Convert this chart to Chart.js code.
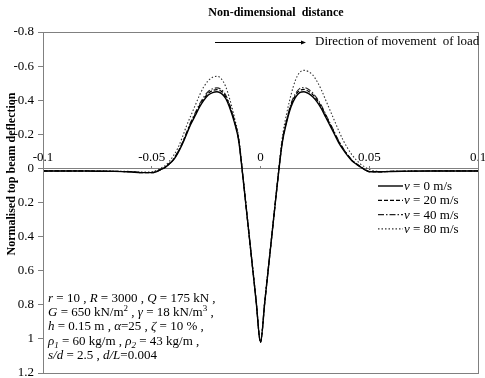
<!DOCTYPE html>
<html>
<head>
<meta charset="utf-8">
<script src="https://cdn.jsdelivr.net/npm/chart.js@4"></script>
<style>
  html, body { margin: 0; padding: 0; background: #fff; }
  #wrap { width: 485px; height: 378px; }
</style>
</head>
<body>
<div id="wrap"><canvas id="chartDeflection"></canvas></div>
<script>
// posicoes x (distancia adimensional) onde a deflexao foi lida
const distX = [
  -0.1, -0.09, -0.08, -0.07, -0.06, -0.055,
  -0.05, -0.048, -0.046, -0.044, -0.042, -0.04, -0.038, -0.036, -0.034, -0.032,
  -0.03, -0.028, -0.026, -0.024, -0.022, -0.02, -0.018, -0.016, -0.014, -0.012,
  -0.01, -0.008, -0.006, -0.004, -0.002, 0, 0.002, 0.004, 0.006, 0.008,
  0.01, 0.012, 0.014, 0.016, 0.018, 0.02, 0.022, 0.024, 0.026, 0.028,
  0.03, 0.032, 0.034, 0.036, 0.038, 0.04, 0.042, 0.044, 0.046, 0.048, 0.05,
  0.055, 0.06, 0.07, 0.08, 0.09, 0.1,
];

const defl0 = [
  0.015, 0.015, 0.015, 0.017, 0.02, 0.025,
  0.025, 0.02, 0.008, -0.005, -0.025, -0.05, -0.09, -0.14, -0.2, -0.26,
  -0.31, -0.36, -0.4, -0.43, -0.445, -0.45, -0.44, -0.41, -0.35, -0.27,
  -0.16, 0.06, 0.3, 0.54, 0.78, 1.02, 0.78, 0.54, 0.3, 0.06,
  -0.15, -0.27, -0.36, -0.415, -0.445, -0.45, -0.44, -0.42, -0.39, -0.35,
  -0.3, -0.25, -0.2, -0.15, -0.11, -0.075, -0.045, -0.025, -0.008, 0.008, 0.02,
  0.02, 0.018, 0.016, 0.015, 0.015, 0.015,
];

const defl20 = [
  0.015, 0.015, 0.015, 0.017, 0.02, 0.025,
  0.025, 0.019, 0.007, -0.006, -0.027, -0.053, -0.094, -0.145, -0.206, -0.267,
  -0.318, -0.369, -0.41, -0.441, -0.457, -0.462, -0.452, -0.421, -0.36, -0.278,
  -0.165, 0.06, 0.3, 0.54, 0.78, 1.02, 0.78, 0.54, 0.3, 0.06,
  -0.155, -0.278, -0.37, -0.427, -0.457, -0.463, -0.453, -0.433, -0.402, -0.361,
  -0.31, -0.259, -0.208, -0.157, -0.115, -0.079, -0.048, -0.027, -0.009, 0.007, 0.019,
  0.02, 0.018, 0.016, 0.015, 0.015, 0.015,
];

const defl40 = [
  0.015, 0.015, 0.015, 0.017, 0.02, 0.024,
  0.024, 0.018, 0.006, -0.007, -0.028, -0.055, -0.097, -0.149, -0.211, -0.274,
  -0.326, -0.378, -0.42, -0.451, -0.467, -0.472, -0.462, -0.43, -0.368, -0.284,
  -0.168, 0.06, 0.3, 0.54, 0.78, 1.02, 0.78, 0.54, 0.3, 0.06,
  -0.158, -0.284, -0.379, -0.437, -0.468, -0.474, -0.464, -0.443, -0.411, -0.369,
  -0.317, -0.265, -0.213, -0.161, -0.118, -0.082, -0.05, -0.029, -0.01, 0.006, 0.018,
  0.019, 0.018, 0.016, 0.015, 0.015, 0.015,
];

const defl80 = [
  0.015, 0.015, 0.015, 0.016, 0.018, 0.022,
  0.02, 0.012, 0, -0.015, -0.04, -0.075, -0.12, -0.18, -0.25, -0.31,
  -0.37, -0.43, -0.48, -0.515, -0.535, -0.54, -0.525, -0.48, -0.4, -0.3,
  -0.18, 0.05, 0.29, 0.53, 0.77, 1.01, 0.77, 0.53, 0.29, 0.05,
  -0.18, -0.32, -0.43, -0.515, -0.563, -0.575, -0.568, -0.548, -0.51, -0.46,
  -0.4, -0.34, -0.28, -0.22, -0.165, -0.12, -0.08, -0.05, -0.025, -0.008, 0.006,
  0.018, 0.017, 0.016, 0.015, 0.015, 0.015,
];

const seriesLabels = ['v = 0 m/s', 'v = 20 m/s', 'v = 40 m/s', 'v = 80 m/s'];
const yTicks = [-0.8, -0.6, -0.4, -0.2, 0, 0.2, 0.4, 0.6, 0.8, 1, 1.2];
const xTicks = [-0.1, -0.05, 0, 0.05, 0.1];

const SERIF = '"Liberation Serif", "Times New Roman", serif';

// texto dos parametros: [trecho, estilo]  (i = italico, sup / sub = indices)
const noteLines = [
  [['r', 'i'], [' = 10 , '], ['R', 'i'], [' = 3000 , '], ['Q', 'i'], [' = 175 kN ,']],
  [['G', 'i'], [' = 650 kN/m'], ['2', 'sup'], [' , '], ['γ', 'i'], [' = 18 kN/m'], ['3', 'sup'], [' ,']],
  [['h', 'i'], [' = 0.15 m , '], ['α', 'i'], ['=25 , '], ['ζ', 'i'], [' = 10 % ,']],
  [['ρ', 'i'], ['1', 'sub'], [' = 60 kg/m , '], ['ρ', 'i'], ['2', 'sub'], [' = 43 kg/m ,']],
  [['s/d', 'i'], [' = 2.5 , '], ['d/L', 'i'], ['=0.004']],
];

function drawRich(ctx, parts, x, y) {
  parts.forEach(([txt, st]) => {
    let size = 13, dy = 0, italic = st === 'i' || st === 'sub';
    if (st === 'sup') { size = 9; dy = -5; }
    if (st === 'sub') { size = 9; dy = 3; }
    ctx.font = `${italic ? 'italic ' : ''}${size}px ${SERIF}`;
    ctx.fillText(txt, x, y + dy);
    x += ctx.measureText(txt).width;
  });
}

const decorPlugin = {
  id: 'decor',
  afterDraw(chart) {
    const { ctx, chartArea: a } = chart;
    ctx.save();
    // moldura
    ctx.strokeStyle = '#808080';
    ctx.lineWidth = 1;
    ctx.strokeRect(Math.round(a.left) + 0.5, Math.round(a.top) + 0.5, Math.round(a.right - a.left), Math.round(a.bottom - a.top));

    ctx.fillStyle = '#000';
    ctx.textBaseline = 'middle';
    ctx.textAlign = 'center';
    ctx.font = `bold 12px ${SERIF}`;
    ctx.fillText('Non-dimensional  distance', 276, 13);

    ctx.save();
    ctx.translate(12, 174);
    ctx.rotate(-Math.PI / 2);
    ctx.fillText('Normalised top beam deflection', 0, 0);
    ctx.restore();

    // seta
    ctx.strokeStyle = '#000';
    ctx.beginPath();
    ctx.moveTo(215, 42.5);
    ctx.lineTo(302, 42.5);
    ctx.stroke();
    ctx.beginPath();
    ctx.moveTo(306, 42.5);
    ctx.lineTo(301, 40.5);
    ctx.lineTo(301, 44.5);
    ctx.closePath();
    ctx.fill();
    ctx.textAlign = 'left';
    ctx.font = `13px ${SERIF}`;
    ctx.fillText('Direction of movement  of load', 315, 42);

    // legenda
    ctx.textBaseline = 'alphabetic';
    chart.data.datasets.forEach((ds, i) => {
      const y = 186 + i * 14.3;
      ctx.setLineDash(ds.borderDash || []);
      ctx.lineWidth = ds.borderWidth;
      ctx.strokeStyle = ds.borderColor;
      ctx.beginPath();
      ctx.moveTo(378, y);
      ctx.lineTo(403, y);
      ctx.stroke();
      ctx.setLineDash([]);
      drawRich(ctx, [[ds.label.slice(0, 1), 'i'], [ds.label.slice(1)]], 404, y + 4);
    });

    noteLines.forEach((parts, i) => drawRich(ctx, parts, 48, 302 + i * 14.2));
    ctx.restore();
  },
};

const styles = [
  { dash: [], color: '#000', width: 1.4 },
  { dash: [4, 2], color: '#000', width: 1.2 },
  { dash: [6, 2, 1.5, 2], color: '#222', width: 1.1 },
  { dash: [1.5, 2], color: '#333', width: 1.1 },
];

const allSeries = [defl0, defl20, defl40, defl80];

new Chart(document.getElementById('chartDeflection'), {
  type: 'line',
  data: {
    datasets: allSeries.map((vals, i) => ({
      label: seriesLabels[i],
      data: distX.map((x, k) => ({ x, y: vals[k] })),
      borderColor: styles[i].color,
      borderWidth: styles[i].width,
      borderDash: styles[i].dash,
      pointRadius: 0,
      fill: false,
      cubicInterpolationMode: 'monotone',
    })),
  },
  options: {
    responsive: true,
    maintainAspectRatio: false,
    animation: false,
    layout: { padding: { top: 32, right: 7, bottom: 5, left: 0 } },
    plugins: { legend: { display: false }, tooltip: { enabled: false }, title: { display: false } },
    scales: {
      x: {
        type: 'linear',
        position: { y: 0 },
        min: -0.1,
        max: 0.1,
        afterBuildTicks: (s) => { s.ticks = xTicks.map((v) => ({ value: v })); },
        afterFit: (s) => { s.paddingLeft = 0; s.paddingRight = 0; },
        ticks: {
          color: '#000',
          font: { family: SERIF, size: 13 },
          padding: -16,
          maxRotation: 0,
          autoSkip: false,
          callback: (v) => String(Number(v.toFixed(2))),
        },
        grid: { drawOnChartArea: false, drawTicks: true, tickLength: -3, color: '#808080' },
        border: { display: true, color: '#808080', width: 1 },
      },
      y: {
        type: 'linear',
        reverse: true,
        min: -0.8,
        max: 1.2,
        afterBuildTicks: (s) => { s.ticks = yTicks.map((v) => ({ value: v })); },
        afterFit: (s) => { s.width = 43; s.paddingTop = 0; s.paddingBottom = 0; },
        ticks: {
          color: '#000',
          font: { family: SERIF, size: 13 },
          padding: 4,
          callback: (v) => String(Number(v.toFixed(1))),
        },
        grid: { drawOnChartArea: false, drawTicks: true, tickLength: 5, color: '#808080' },
        border: { display: true, color: '#808080', width: 1 },
      },
    },
  },
  plugins: [decorPlugin],
});
</script>
</body>
</html>
